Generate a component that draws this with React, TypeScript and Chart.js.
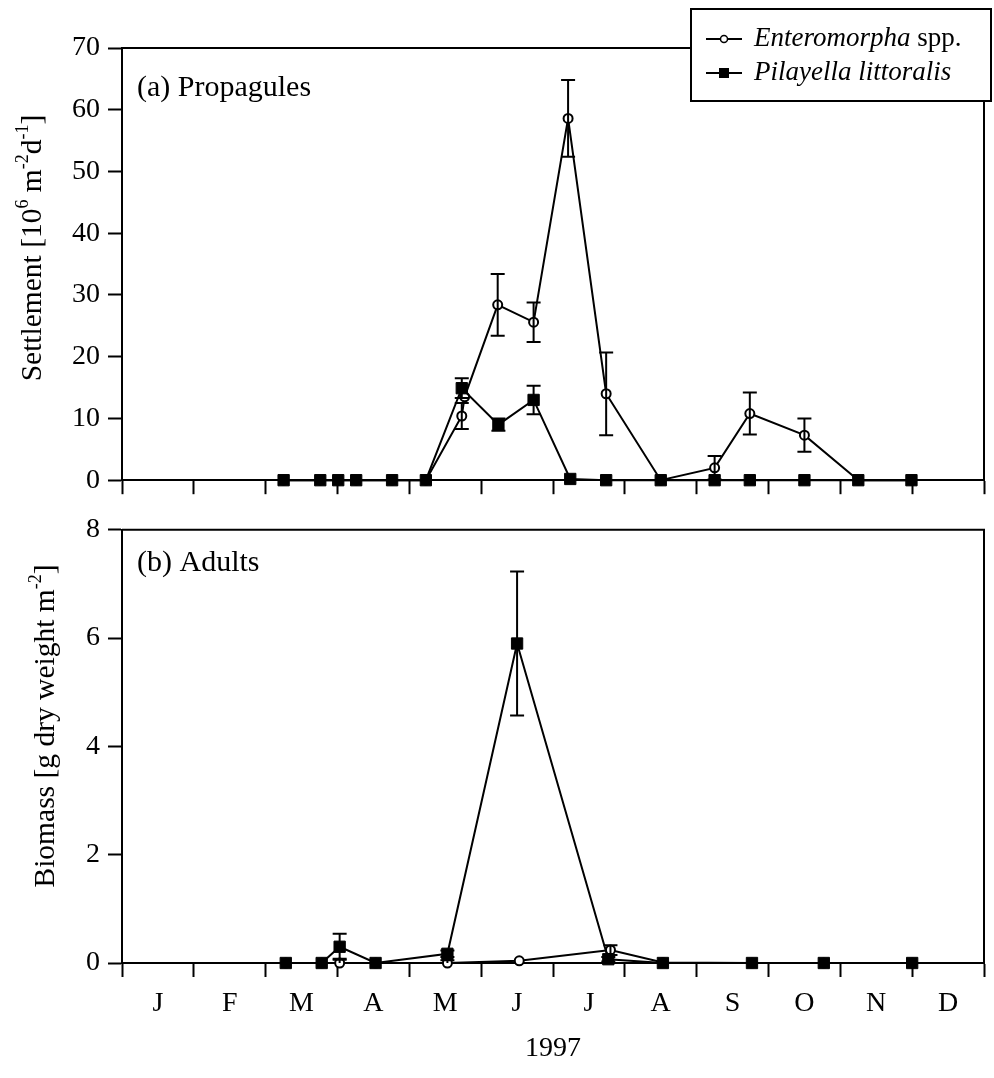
import { useEffect, useRef } from 'react';
import { Chart, registerables } from 'chart.js';

Chart.register(...registerables);

const FONT = "'Liberation Serif', 'Times New Roman', Times, serif";

const MONTH_LABELS = ['J', 'F', 'M', 'A', 'M', 'J', 'J', 'A', 'S', 'O', 'N', 'D'];
const YEAR_LABEL = '1997';

// Sampling dates are expressed in months from 1 January 1997.
// (a) Propagule settlement, mean and SE [10^6 m^-2 d^-1]
const entSettleDates = [2.25, 2.76, 3.01, 3.26, 3.76, 4.23, 4.73, 4.77, 5.23, 5.73, 6.21, 6.74, 7.5, 8.25, 8.74, 9.5, 10.25, 10.99];
const entSettleMean = [0, 0, 0, 0, 0, 0, 10.4, 13.5, 28.4, 25.6, 58.6, 14.0, 0, 2.0, 10.8, 7.3, 0, 0];
const entSettleSE = [0, 0, 0, 0, 0, 0, 2.1, 0, 5.0, 3.2, 6.2, 6.7, 0, 1.9, 3.4, 2.7, 0, 0];

const pilSettleDates = [2.25, 2.76, 3.01, 3.26, 3.76, 4.23, 4.73, 5.24, 5.73, 6.24, 6.74, 7.5, 8.25, 8.74, 9.5, 10.25, 10.99];
const pilSettleMean = [0, 0, 0, 0, 0, 0, 14.9, 9.0, 13.0, 0.2, 0, 0, 0, 0, 0, 0, 0];
const pilSettleSE = [0, 0, 0, 0, 0, 0, 1.6, 1.0, 2.3, 0, 0, 0, 0, 0, 0, 0, 0];

// (b) Adult biomass, mean and SE [g dry weight m^-2]
const entBiomassDates = [2.28, 2.78, 3.03, 3.53, 4.53, 5.53, 6.8, 7.53, 8.77, 9.77, 11.0];
const entBiomassMean = [0, 0, 0, 0, 0, 0.04, 0.24, 0.01, 0, 0, 0];
const entBiomassSE = [0, 0, 0.08, 0, 0.05, 0, 0.09, 0, 0, 0, 0];

const pilBiomassDates = [2.28, 2.78, 3.03, 3.53, 4.53, 5.5, 6.77, 7.53, 8.77, 9.77, 11.0];
const pilBiomassMean = [0, 0, 0.3, 0, 0.17, 5.9, 0.07, 0, 0, 0, 0];
const pilBiomassSE = [0, 0, 0.24, 0, 0.06, 1.33, 0.04, 0, 0, 0, 0];

const SETTLE_MAX = 70;
const SETTLE_STEP = 10;
const BIOMASS_MAX = 8;
const BIOMASS_STEP = 2;

type Part = { text: string; sup?: boolean };

const settleTitle: Part[] = [
  { text: 'Settlement [10' },
  { text: '6', sup: true },
  { text: ' m' },
  { text: '-2', sup: true },
  { text: 'd' },
  { text: '-1', sup: true },
  { text: ']' },
];
const biomassTitle: Part[] = [
  { text: 'Biomass [g dry weight m' },
  { text: '-2', sup: true },
  { text: ']' },
];

const toPoints = (xs: number[], ys: number[]) => xs.map((x, i) => ({ x, y: ys[i] }));

const errorBars = {
  id: 'errorBars',
  afterDatasetsDraw(chart: any) {
    const { ctx, chartArea } = chart;
    const yScale = chart.scales.y;
    chart.data.datasets.forEach((ds: any, i: number) => {
      const se: number[] | undefined = ds.se;
      if (!se) return;
      const meta = chart.getDatasetMeta(i);
      ctx.save();
      ctx.strokeStyle = '#000';
      ctx.lineWidth = 2;
      meta.data.forEach((pt: any, j: number) => {
        const e = se[j];
        if (!e) return;
        const v = ds.data[j].y;
        const x = pt.x;
        const yTop = yScale.getPixelForValue(v + e);
        const low = v - e;
        const yBot = Math.min(yScale.getPixelForValue(Math.max(low, 0)), chartArea.bottom);
        ctx.beginPath();
        ctx.moveTo(x, yTop);
        ctx.lineTo(x, yBot);
        ctx.moveTo(x - 7, yTop);
        ctx.lineTo(x + 7, yTop);
        if (low > 0) {
          ctx.moveTo(x - 7, yBot);
          ctx.lineTo(x + 7, yBot);
        }
        ctx.stroke();
      });
      ctx.restore();
    });
  },
};

const frame = {
  id: 'frame',
  beforeDatasetsDraw(chart: any) {
    const { ctx, chartArea } = chart;
    ctx.save();
    ctx.strokeStyle = '#000';
    ctx.lineWidth = 2;
    ctx.beginPath();
    ctx.moveTo(chartArea.left, chartArea.top);
    ctx.lineTo(chartArea.right, chartArea.top);
    ctx.lineTo(chartArea.right, chartArea.bottom);
    ctx.stroke();
    ctx.restore();
  },
};

function drawRichVertical(ctx: CanvasRenderingContext2D, parts: Part[], cx: number, cy: number, size: number) {
  const supSize = Math.round(size * 0.62);
  const fontFor = (p: Part) => `${p.sup ? supSize : size}px ${FONT}`;
  let total = 0;
  const widths = parts.map((p) => {
    ctx.font = fontFor(p);
    const w = ctx.measureText(p.text).width;
    total += w;
    return w;
  });
  ctx.save();
  ctx.translate(cx, cy);
  ctx.rotate(-Math.PI / 2);
  ctx.fillStyle = '#000';
  ctx.textBaseline = 'alphabetic';
  ctx.textAlign = 'left';
  let x = -total / 2;
  const base = size * 0.33;
  parts.forEach((p, i) => {
    ctx.font = fontFor(p);
    ctx.fillText(p.text, x, p.sup ? base - size * 0.42 : base);
    x += widths[i];
  });
  ctx.restore();
}

type PanelText = {
  label: string;
  labelX: number;
  labelY: number;
  title: Part[];
  titleX: number;
  titleY: number;
  legend: boolean;
};

function annotations(t: PanelText) {
  return {
    id: 'annotations',
    afterDraw(chart: any) {
      const ctx: CanvasRenderingContext2D = chart.ctx;
      ctx.save();
      ctx.fillStyle = '#000';
      ctx.font = `30px ${FONT}`;
      ctx.textBaseline = 'middle';
      ctx.textAlign = 'left';
      ctx.fillText(t.label, t.labelX, t.labelY);
      drawRichVertical(ctx, t.title, t.titleX, t.titleY, 29.5);

      if (t.legend) {
        const bx = 691;
        const by = 9;
        const bw = 300;
        const bh = 92;
        ctx.fillStyle = '#fff';
        ctx.fillRect(bx, by, bw, bh);
        ctx.strokeStyle = '#000';
        ctx.lineWidth = 2;
        ctx.strokeRect(bx, by, bw, bh);

        const ds = chart.data.datasets;
        const rows = [39, 73];
        rows.forEach((ry, i) => {
          ctx.lineWidth = 2;
          ctx.beginPath();
          ctx.moveTo(706, ry);
          ctx.lineTo(742, ry);
          ctx.stroke();
          if (i === 0) {
            ctx.beginPath();
            ctx.arc(724, ry, 3.5, 0, Math.PI * 2);
            ctx.fillStyle = '#fff';
            ctx.fill();
            ctx.lineWidth = 1.5;
            ctx.stroke();
          } else {
            ctx.fillStyle = '#000';
            ctx.fillRect(719, ry - 5, 10, 10);
          }
          ctx.fillStyle = '#000';
          ctx.textBaseline = 'middle';
          const name: string = ds[i].label;
          const [genus, rest] = name.split(/ (?=spp\.)/);
          ctx.font = `italic 27px ${FONT}`;
          ctx.fillText(genus, 754, ry);
          if (rest) {
            const w = ctx.measureText(genus + ' ').width;
            ctx.font = `27px ${FONT}`;
            ctx.fillText(rest, 754 + w, ry);
          }
        });
      }
      ctx.restore();
    },
  };
}

function lineDataset(label: string, xs: number[], ys: number[], se: number[], filled: boolean) {
  return {
    label,
    data: toPoints(xs, ys),
    se,
    // filled squares are drawn above the open circles
    order: filled ? 0 : 1,
    borderColor: '#000',
    borderWidth: 2,
    pointStyle: filled ? 'rect' : 'circle',
    pointRadius: filled ? 8 : 4.5,
    pointBorderWidth: filled ? 1 : 2,
    pointBackgroundColor: filled ? '#000' : '#fff',
    pointBorderColor: '#000',
    tension: 0,
    clip: false,
  };
}

function makeConfig(opts: {
  datasets: any[];
  yMax: number;
  yStep: number;
  padTop: number;
  xHeight: number;
  monthLabels: boolean;
  text: PanelText;
}) {
  const axisLine = { display: true, color: '#000', width: 2 };
  const tickGrid = {
    display: true,
    drawOnChartArea: false,
    drawTicks: true,
    tickLength: 14,
    tickColor: '#000',
    tickWidth: 2,
  };
  return {
    type: 'line' as const,
    data: { datasets: opts.datasets },
    options: {
      responsive: false,
      maintainAspectRatio: false,
      devicePixelRatio: 1,
      animation: false as const,
      events: [],
      layout: { padding: { top: opts.padTop, right: 10, left: 0, bottom: 0 } },
      plugins: { legend: { display: false }, tooltip: { enabled: false } },
      scales: {
        x: {
          type: 'linear' as const,
          min: 0,
          max: 12,
          border: axisLine,
          grid: tickGrid,
          ticks: {
            stepSize: 1,
            autoSkip: false,
            maxRotation: 0,
            padding: 10,
            labelOffset: opts.monthLabels ? 35.9 : 0,
            color: '#000',
            font: { family: FONT, size: 28 },
            callback: (v: number) => (opts.monthLabels && v < 12 ? MONTH_LABELS[Math.round(v)] : ''),
          },
          title: {
            display: opts.monthLabels,
            text: YEAR_LABEL,
            color: '#000',
            font: { family: FONT, size: 28 },
            padding: { top: 0, bottom: 13 },
          },
          afterFit: (scale: any) => {
            scale.height = opts.xHeight;
          },
        },
        y: {
          type: 'linear' as const,
          min: 0,
          max: opts.yMax,
          border: axisLine,
          grid: tickGrid,
          ticks: {
            stepSize: opts.yStep,
            padding: 8,
            color: '#000',
            font: { family: FONT, size: 28 },
          },
          afterFit: (scale: any) => {
            scale.width = 122;
          },
        },
      },
    },
    plugins: [frame, errorBars, annotations(opts.text)],
  };
}

export default function App() {
  const topRef = useRef<HTMLCanvasElement>(null);
  const bottomRef = useRef<HTMLCanvasElement>(null);

  useEffect(() => {
    const settlement = new Chart(
      topRef.current!,
      makeConfig({
        datasets: [
          lineDataset('Enteromorpha spp.', entSettleDates, entSettleMean, entSettleSE, false),
          lineDataset('Pilayella littoralis', pilSettleDates, pilSettleMean, pilSettleSE, true),
        ],
        yMax: SETTLE_MAX,
        yStep: SETTLE_STEP,
        padTop: 48,
        xHeight: 16,
        monthLabels: false,
        text: {
          label: '(a) Propagules',
          labelX: 137,
          labelY: 88,
          title: settleTitle,
          titleX: 31,
          titleY: 248,
          legend: true,
        },
      }) as any
    );
    const biomass = new Chart(
      bottomRef.current!,
      makeConfig({
        datasets: [
          lineDataset('Enteromorpha spp.', entBiomassDates, entBiomassMean, entBiomassSE, false),
          lineDataset('Pilayella littoralis', pilBiomassDates, pilBiomassMean, pilBiomassSE, true),
        ],
        yMax: BIOMASS_MAX,
        yStep: BIOMASS_STEP,
        padTop: 16,
        xHeight: 115,
        monthLabels: true,
        text: {
          label: '(b) Adults',
          labelX: 137,
          labelY: 58,
          title: biomassTitle,
          titleX: 44,
          titleY: 221,
          legend: false,
        },
      }) as any
    );
    return () => {
      settlement.destroy();
      biomass.destroy();
    };
  }, []);

  return (
    <div style={{ position: 'absolute', left: 0, top: 0, width: 994, height: 1078, background: '#fff' }}>
      <canvas ref={topRef} width={994} height={505} style={{ position: 'absolute', left: 0, top: 0 }} />
      <canvas ref={bottomRef} width={994} height={573} style={{ position: 'absolute', left: 0, top: 505 }} />
    </div>
  );
}
